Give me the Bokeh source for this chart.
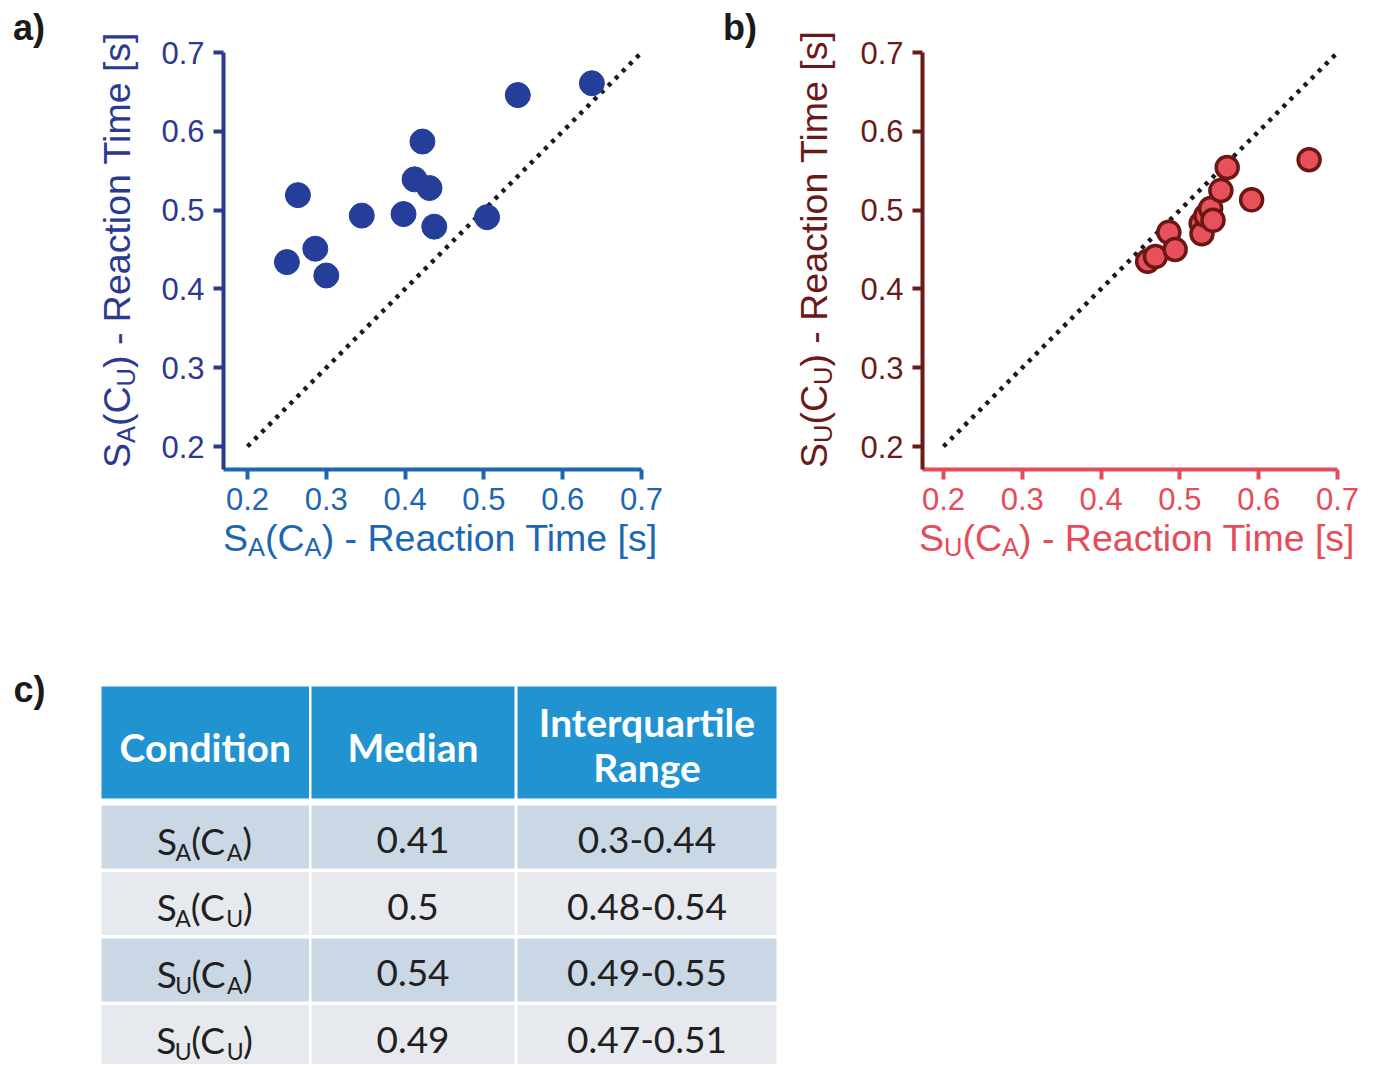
import math
from bokeh.plotting import figure
from bokeh.models import Range1d, FixedTicker, PrintfTickFormatter, ColumnDataSource, Div
from bokeh.layouts import column, row
from bokeh.embed import file_html
from bokeh.resources import INLINE
from bokeh.core.properties import value

# ---------------- data ----------------
ticks = [0.2, 0.3, 0.4, 0.5, 0.6, 0.7]
identity_line = [0.2, 0.7]

# panel a: S_A(C_A) (x) vs S_A(C_U) (y)
a_x = [0.250, 0.264, 0.286, 0.300, 0.345, 0.398, 0.412, 0.431, 0.422, 0.437, 0.504, 0.543, 0.637]
a_y = [0.434, 0.519, 0.451, 0.417, 0.493, 0.495, 0.539, 0.528, 0.587, 0.479, 0.491, 0.646, 0.661]

# panel b: S_U(C_A) (x) vs S_U(C_U) (y)
b_x = [0.459, 0.469, 0.486, 0.494, 0.527, 0.528, 0.533, 0.539, 0.542, 0.552, 0.560, 0.591, 0.664]
b_y = [0.435, 0.441, 0.472, 0.450, 0.483, 0.470, 0.493, 0.502, 0.487, 0.525, 0.554, 0.513, 0.564]

# table c
cond_subjects = ["A", "A", "U", "U"]
cond_contexts = ["A", "U", "A", "U"]
medians = ["0.41", "0.5", "0.54", "0.49"]
iqr = ["0.3-0.44", "0.48-0.54", "0.49-0.55", "0.47-0.51"]
headers = ["Condition", "Median", "Interquartile", "Range"]

# ---------------- helpers ----------------
PX = 788.0  # pixels per data unit on both scatter axes
LATO = {"S": 0.50, "A": 0.68, "U": 0.71, "C": 0.66, "(": 0.30, ")": 0.30}
M_LATO = 0.387                  # baseline compensation (fraction of font size)
TF, TFS = 37.5, 25.5            # axis title font sizes (main, subscript)
ASC = 0.8465                    # baseline offset in a line box of line-height 1em


def text_w(s, metrics):
    return sum(metrics.get(ch, 0.55) for ch in s)


def sub(t):
    return (f'<sub style="font-size:{TFS}px;vertical-align:-5px;'
            f'line-height:0">{t}</sub>')


def title_html(s_sub, c_sub):
    return f'S{sub(s_sub)}(C{sub(c_sub)}) - Reaction Time [s]'


def span(left, baseline, html, color, size, bold=False, rotate=False):
    top = baseline - ASC * size if not rotate else baseline
    style = (f"position:absolute;left:{left:.1f}px;top:{top:.1f}px;"
             f"font-family:'Liberation Sans';font-size:{size}px;"
             f"line-height:{size}px;color:{color};white-space:nowrap;"
             f"font-weight:{'bold' if bold else 'normal'};")
    if rotate:
        style += "transform-origin:0 0;transform:rotate(-90deg);"
    return f'<span style="{style}">{html}</span>'


def div_box(width, height, spans):
    html = (f'<div style="position:relative;width:{width}px;height:{height}px;'
            f'overflow:visible;">' + "".join(spans) + '</div>')
    return Div(text=html, width=width, height=height, margin=0,
               styles={"position": "relative", "overflow": "visible",
                       "padding": "0px"})


def blank(left, top, w, h):
    """figure whose frame fills the canvas; data x = page x, data y = -page y"""
    p = figure(width=w, height=h, x_range=Range1d(left, left + w),
               y_range=Range1d(-(top + h), -top), output_backend="svg",
               toolbar_location=None, x_axis_location=None,
               y_axis_location=None, min_border=0)
    p.grid.visible = False
    p.outline_line_color = None
    return p


def scatter_panel(xs, ys, width, border_left, frame_w, xcol, ycol,
                  fill, edge, edge_w, size):
    top, frame_h, bottom = 52, 417, 54
    x0 = 0.7 - frame_w / PX
    y0 = 0.7 - frame_h / PX
    p = figure(width=width, height=top + frame_h + bottom,
               x_range=Range1d(x0, 0.7), y_range=Range1d(y0, 0.7),
               output_backend="svg", toolbar_location=None,
               min_border_left=border_left,
               min_border_right=width - border_left - frame_w,
               min_border_top=top, min_border_bottom=bottom)
    p.grid.visible = False
    p.outline_line_color = None
    for ax, col, standoff in ((p.xaxis, xcol, 8), (p.yaxis, ycol, 9)):
        ax.ticker = FixedTicker(ticks=ticks)
        ax.formatter = PrintfTickFormatter(format="%.1f")
        ax.axis_line_color = col
        ax.axis_line_width = 4
        ax.major_tick_line_color = col
        ax.major_tick_line_width = 4
        ax.major_tick_out = 10
        ax.major_tick_in = 0
        ax.minor_tick_line_color = None
        ax.major_label_text_color = col
        ax.major_label_text_font = "Liberation Sans"
        ax.major_label_text_font_size = "31px"
        ax.major_label_standoff = standoff
    p.line(identity_line, identity_line, line_color="#1a1a1a", line_width=4.5,
           line_dash="4 6")
    p.scatter(xs, ys, size=size, fill_color=fill, line_color=edge,
              line_width=edge_w)
    return p


H1 = 523
A_X, A_Y = "#1d66b3", "#2b3990"
B_X, B_Y = "#e64b58", "#6b1a1a"
INK = "#1a1a1a"

# left strips: panel letter + rotated y-axis title (real subscripts)
ya = div_box(150, H1, [
    span(13, 40, "a)", INK, 36, bold=True),
    span(131 - ASC * TF, 468, title_html("A", "U"), A_Y, TF, rotate=True)])
pa = scatter_panel(a_x, a_y, width=560, border_left=73, frame_w=418,
                   xcol=A_X, ycol=A_Y, fill="#243e9a", edge="#243e9a",
                   edge_w=1, size=25)
yb = div_box(140, H1, [
    span(13, 40, "b)", INK, 36, bold=True),
    span(118 - ASC * TF, 468, title_html("U", "U"), B_Y, TF, rotate=True)])
pb = scatter_panel(b_x, b_y, width=526, border_left=72, frame_w=415,
                   xcol=B_X, ycol=B_Y, fill="#e8505b", edge="#6b1716",
                   edge_w=3.5, size=22)

# x-axis titles strip
XT_H = 45
xt = div_box(1376, XT_H, [
    span(223, 552 - H1, title_html("A", "A"), A_X, TF),
    span(919, 552 - H1, title_html("U", "A"), B_X, TF)])

# ---------------- bottom: letter c + table ----------------
T_TOP = H1 + XT_H
T_H = 1064 - T_TOP
t = blank(0, T_TOP, 1376, T_H)

t.text(x=[13], y=[-(701 - 0.347 * 36)], text=["c)"],
       text_font=value("Liberation Sans"), text_font_style="bold",
       text_font_size="36px", text_color=INK, text_align="left",
       text_baseline="alphabetic")

col_left = [101, 311, 517]
col_right = [308.5, 514, 776]
col_center = [(a + b) / 2 for a, b in zip(col_left, col_right)]
head_top, head_bottom = 686, 798
row_top0, row_pitch, row_h = 805, 66.5, 63

t.quad(left=col_left, right=col_right, top=[-head_top] * 3,
       bottom=[-head_bottom] * 3, fill_color="#2293d1", line_color=None)
bl, br, bt, bb, bc = [], [], [], [], []
for i in range(len(medians)):
    top = row_top0 + i * row_pitch
    for c in range(3):
        bl.append(col_left[c]); br.append(col_right[c])
        bt.append(-top); bb.append(-(top + row_h))
        bc.append("#cad8e6" if i % 2 == 0 else "#e6e9ee")
t.quad(left=bl, right=br, top=bt, bottom=bb, fill_color=bc, line_color=None)

HF = 39
head_base = [762, 762, 737, 782]
t.text(x=[col_center[0], col_center[1], col_center[2], col_center[2]],
       y=[-(b - M_LATO * HF) for b in head_base], text=headers,
       text_font=value("Lato"), text_font_style="bold",
       text_font_size=f"{HF}px", text_color="white",
       text_align="center", text_baseline="alphabetic")

BF = 37
base_y = [row_top0 + i * row_pitch + 49 for i in range(len(medians))]
for col_i, vals in ((1, medians), (2, iqr)):
    t.text(x=[col_center[col_i]] * len(vals),
           y=[-(b - M_LATO * BF) for b in base_y], text=vals,
           text_font=value("Lato"), text_font_size=f"{BF}px",
           text_color="#231f20", text_align="center",
           text_baseline="alphabetic")

# condition column with subscripts
Fs_t, drop = 23, 6
xs_, ys_, tx_, sz_ = [], [], [], []
for i, (s, c) in enumerate(zip(cond_subjects, cond_contexts)):
    pieces = [("S", 0), (s, 1), ("(C", 0), (c, 1), (")", 0)]
    total = sum(text_w(p_, LATO) * (Fs_t if sb else BF) for p_, sb in pieces)
    cur = col_center[0] - total / 2
    for p_, sb in pieces:
        fs = Fs_t if sb else BF
        b = base_y[i] + (drop if sb else 0)
        xs_.append(cur); ys_.append(-(b - M_LATO * fs))
        tx_.append(p_); sz_.append(f"{fs}px")
        cur += text_w(p_, LATO) * fs
src = ColumnDataSource(dict(x=xs_, y=ys_, text=tx_, size=sz_))
t.text(x="x", y="y", text="text", source=src, text_font=value("Lato"),
       text_font_size="size", text_color="#231f20",
       text_align="left", text_baseline="alphabetic")

layout = column(row(ya, pa, yb, pb), xt, t)
open("out.html", "w").write(file_html(layout, INLINE))
